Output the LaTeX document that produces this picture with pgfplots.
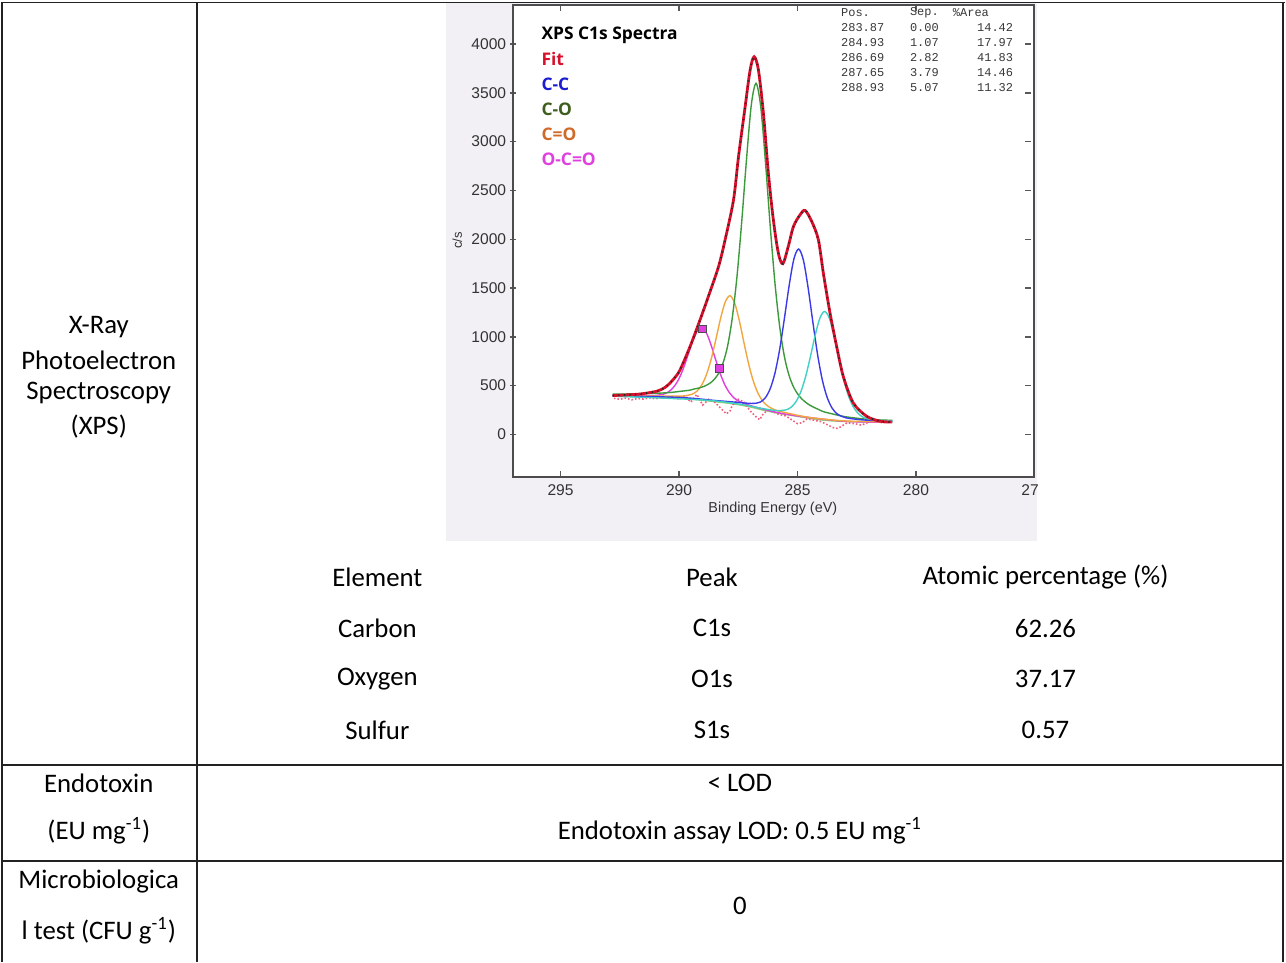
\documentclass[border=0pt]{standalone}
\usepackage{fontspec}
\setmainfont{Carlito}
\newfontfamily\arialf{Liberation Sans}
\newfontfamily\osans{Open Sans}
\newfontfamily\monof{Liberation Mono}
\usepackage{pgfplots}
\pgfplotsset{compat=1.18}

\definecolor{chartbg}{HTML}{F2F0F5}
\definecolor{fitred}{HTML}{D8102C}
\definecolor{ccblue}{HTML}{1C1CD0}
\definecolor{coolive}{HTML}{3E5E1E}
\definecolor{cobrown}{HTML}{D06A28}
\definecolor{ocomag}{HTML}{E040E0}
\definecolor{compblue}{HTML}{3A3AE8}
\definecolor{compgreen}{HTML}{3C9A3C}
\definecolor{comporange}{HTML}{F2A640}
\definecolor{compcyan}{HTML}{40D0C4}
\definecolor{bggreen}{HTML}{90D070}
\definecolor{respink}{HTML}{F06080}
\definecolor{gridline}{HTML}{222222}

\begin{document}
\begin{tikzpicture}
\begin{scope}[x=0.5pt,y=-0.5pt]
\useasboundingbox (0,0) rectangle (1286,963);
\fill[white] (0,0) rectangle (1286,963);
\fill[chartbg] (446,3) rectangle (1038,542);
\end{scope}

\begin{axis}[
    at={(256.5pt,-239pt)}, anchor=south west,
    width=261pt, height=236.5pt, scale only axis,
    axis background/.style={fill=white},
    x dir=reverse,
    xmin=275, xmax=297, ymin=-440, ymax=4400,
    xtick={275,280,285,290,295},
    ytick={0,500,...,4000},
    tick align=inside,
    major tick length=3pt,
    ytick style={xshift=-1.5pt},
    tick style={black!65, line width=0.7pt},
    axis line style={black!70, line width=1pt},
    /pgf/number format/assume math mode=true,
    /pgf/number format/1000 sep={},
    ticklabel style={font=\arialf\fontsize{7.8}{9}\selectfont, text=black!80},
    clip=true,
]
% Shirley-type background
\addplot[bggreen, line width=0.7pt] coordinates {
(292.8,392) (292,388) (291,382) (290,372) (289.5,362) (289,350) (288.5,336)
(288,322) (287.5,305) (287,282) (286.5,252) (286,225) (285.5,205) (285,185)
(284.5,165) (284,148) (283.5,138) (283,132) (282,127) (281,124)};
% residuals
\addplot[respink, densely dotted, line width=0.8pt] coordinates {
(292.75,370) (292.5,360) (292.25,372) (292.0,355) (291.75,368) (291.5,362)
(291.25,375) (291.0,365) (290.75,380) (290.5,372) (290.25,385) (290.0,360)
(289.75,395) (289.5,330) (289.25,410) (289.0,300) (288.75,360) (288.5,330)
(288.25,270) (288.0,210) (287.85,240) (287.75,300) (287.5,360) (287.25,330)
(287.0,240) (286.75,180) (286.6,150) (286.45,210) (286.25,250) (286.0,230)
(285.75,200) (285.5,190) (285.25,150) (285.0,110) (284.8,120) (284.6,160)
(284.4,150) (284.2,140) (284.0,130) (283.75,100) (283.5,70) (283.3,60)
(283.1,90) (282.9,120) (282.6,110) (282.3,95) (282.0,125) (281.7,130)
(281.4,120) (281.1,125)};
% O-C=O component
\addplot[ocomag, line width=0.7pt, smooth] coordinates {
(292.8,396) (291.45,396) (291.25,397) (291.05,398) (290.85,404) (290.65,413)
(290.45,435) (290.25,478) (290.05,549) (289.85,655) (289.65,793) (289.45,938)
(289.25,1053) (289.05,1095) (288.85,1043) (288.65,917) (288.45,762) (288.25,615)
(288.05,499) (287.85,420) (287.65,368) (287.45,337) (287.25,317) (287.05,300)
(286.85,286) (286.65,272) (286.0,232) (285.0,189) (283.0,134) (281.0,124)};
% C=O component
\addplot[comporange, line width=0.7pt, smooth] coordinates {
(292.8,396) (291.5,392) (290.25,392) (290.05,393) (289.85,393) (289.65,400)
(289.45,412) (289.25,442) (289.05,503) (288.85,608) (288.65,765) (288.45,969)
(288.25,1185) (288.05,1357) (287.85,1421) (287.65,1344) (287.45,1159) (287.25,928)
(287.05,709) (286.85,535) (286.65,413) (286.45,335) (286.25,290) (286.05,262)
(285.85,243) (285.65,231) (285.45,220) (284.5,174) (283.0,138) (281.0,127)};
% C-O component
\addplot[compgreen, line width=0.7pt, smooth] coordinates {
(292.8,412) (291.5,418) (290.5,427) (289.75,447) (289.55,453) (289.35,466)
(289.15,476) (288.95,492) (288.75,516) (288.55,554) (288.35,618) (288.15,726)
(287.95,906) (287.75,1200) (287.55,1629) (287.35,2193) (287.15,2827) (286.95,3377)
(286.75,3598) (286.55,3353) (286.35,2782) (286.15,2128) (285.95,1545) (285.75,1101)
(285.55,793) (285.35,599) (285.15,477) (284.95,400) (284.75,348) (284.55,310)
(284.35,282) (284.15,260) (283.95,237) (283.75,223) (283.0,182) (282.0,154)
(281.0,144)};
% C-C component
\addplot[compblue, line width=0.7pt, smooth] coordinates {
(292.8,395) (290,379) (288.5,348) (287.75,333) (287.35,324) (287.15,320)
(286.95,317) (286.75,320) (286.55,334) (286.35,378) (286.15,470) (285.95,630)
(285.75,876) (285.55,1193) (285.35,1530) (285.15,1800) (284.95,1900) (284.75,1784)
(284.55,1498) (284.35,1146) (284.15,814) (283.95,554) (283.75,380) (283.55,273)
(283.35,215) (283.15,187) (282.95,170) (282.75,162) (282.55,156) (282.15,147)
(281.0,133)};
% second C-C component, cyan
\addplot[compcyan, line width=0.7pt, smooth] coordinates {
(292.8,392) (289,353) (287.5,312) (286.65,273) (286.25,256) (286.05,248)
(285.85,244) (285.65,246) (285.45,254) (285.25,282) (285.05,341) (284.85,443)
(284.65,600) (284.45,803) (284.25,1021) (284.05,1195) (283.85,1260) (283.65,1186)
(283.45,1001) (283.25,775) (283.05,562) (282.85,395) (282.65,284) (282.45,216)
(282.25,179) (282.05,162) (281.85,151) (281.65,146) (281.45,142) (281.0,136)};
% fit envelope and measured data
\addplot[fitred, line width=1.4pt, smooth, tension=0.5] coordinates {
(292.80,398) (292.20,405) (291.60,415) (290.93,443) (290.60,480) (290.37,529)
(290.15,590) (289.95,665) (289.53,903) (289.11,1176) (288.76,1415) (288.33,1722)
(288.05,2000) (287.70,2404) (287.49,2847) (287.21,3358) (287.00,3734) (286.83,3870)
(286.65,3734) (286.44,3291) (286.23,2677) (286.02,2199) (285.81,1859) (285.62,1749)
(285.39,1926) (285.17,2131) (284.89,2251) (284.68,2295) (284.40,2182) (284.12,1995)
(283.91,1654) (283.63,1245) (283.35,903) (283.07,596) (282.65,324) (282.09,187)
(281.53,136) (281.03,126)};
\addplot[black!85, line width=0.9pt, dash pattern=on 0.6pt off 2.2pt, smooth, tension=0.5] coordinates {
(292.80,398) (292.20,405) (291.60,415) (290.93,443) (290.60,480) (290.37,529)
(290.15,590) (289.95,665) (289.53,903) (289.11,1176) (288.76,1415) (288.33,1722)
(288.05,2000) (287.70,2404) (287.49,2847) (287.21,3358) (287.00,3734) (286.83,3870)
(286.65,3734) (286.44,3291) (286.23,2677) (286.02,2199) (285.81,1859) (285.62,1749)
(285.39,1926) (285.17,2131) (284.89,2251) (284.68,2295) (284.40,2182) (284.12,1995)
(283.91,1654) (283.63,1245) (283.35,903) (283.07,596) (282.65,324) (282.09,187)
(281.53,136) (281.03,126)};
% region markers
\addplot[only marks, mark=square*, mark size=2pt,
  mark options={fill=ocomag, draw=black!70, line width=0.5pt}] coordinates {
(289.01,1080) (288.31,680)};
\end{axis}

\begin{scope}[x=0.5pt,y=-0.5pt]
% crop of the 275 label
\fill[white] (1039,481) rectangle (1281,541);
% chart texts
\begin{scope}[every node/.style={anchor=west, inner sep=0pt, font=\osans\bfseries\fontsize{8.7}{10}\selectfont}]
\node[text=black] at (541,35) {XPS C1s Spectra};
\node[text=fitred] at (541,59) {Fit};
\node[text=ccblue] at (541,84) {C-C};
\node[text=coolive] at (541,109) {C-O};
\node[text=cobrown] at (541,134) {C=O};
\node[text=ocomag] at (541,160) {O-C=O};
\end{scope}
\begin{scope}[every node/.style={font=\monof\fontsize{6}{7}\selectfont, text=black!78, inner sep=0pt}]
\node[anchor=west] at (841,13) {Pos.};
\node[anchor=west] at (910,13) {Sep.};
\node[anchor=west] at (953,13) {\%Area};
\node[anchor=west] at (841,28) {283.87}; \node[anchor=west] at (910,28) {0.00}; \node[anchor=east] at (1014,28) {14.42};
\node[anchor=west] at (841,43) {284.93}; \node[anchor=west] at (910,43) {1.07}; \node[anchor=east] at (1014,43) {17.97};
\node[anchor=west] at (841,58) {286.69}; \node[anchor=west] at (910,58) {2.82}; \node[anchor=east] at (1014,58) {41.83};
\node[anchor=west] at (841,73) {287.65}; \node[anchor=west] at (910,73) {3.79}; \node[anchor=east] at (1014,73) {14.46};
\node[anchor=west] at (841,88) {288.93}; \node[anchor=west] at (910,88) {5.07}; \node[anchor=east] at (1014,88) {11.32};
\end{scope}
\node[rotate=90, font=\arialf\fontsize{6.5}{8}\selectfont, text=black!80] at (457,241) {c/s};
\node[font=\arialf\fontsize{7.2}{9}\selectfont, text=black!80] at (773,509) {Binding Energy (eV)};

% table rules
\draw[gridline, line width=0.9pt] (0,2.5) -- (1286,2.5);
\draw[gridline, line width=0.9pt] (1.5,2.5) -- (1.5,963);
\draw[gridline, line width=0.9pt] (196,2.5) -- (196,963);
\draw[gridline, line width=0.9pt] (1283.5,2.5) -- (1283.5,963);
\draw[gridline, line width=0.9pt] (1.5,766) -- (1283.5,766);
\draw[gridline, line width=0.9pt] (1.5,862) -- (1283.5,862);

% table texts
\begin{scope}[every node/.style={font=\fontsize{13.4}{16.5}\selectfont, text=black, inner sep=0pt}]
\node at (98,328) {X-Ray};
\node at (98,361) {Photoelectron};
\node at (98,394) {Spectroscopy};
\node at (98,427) {(XPS)};
\node at (377,578) {Element};
\node at (712,578) {Peak};
\node at (1046,578) {Atomic percentage (\%)};
\node at (377,629) {Carbon};
\node at (712,629) {C1s};
\node at (1046,629) {62.26};
\node at (377,680) {Oxygen};
\node at (712,680) {O1s};
\node at (1046,680) {37.17};
\node at (377,731) {Sulfur};
\node at (712,731) {S1s};
\node at (1046,731) {0.57};
\node at (98,784) {Endotoxin};
\node at (98,832) {(EU mg\textsuperscript{-1})};
\node at (740,784) {< LOD};
\node at (740,832) {Endotoxin assay LOD: 0.5 EU mg\textsuperscript{-1}};
\node at (98,883) {Microbiologica};
\node at (98,932) {l test (CFU g\textsuperscript{-1})};
\node at (740,907) {0};
\end{scope}
\end{scope}
\end{tikzpicture}
\end{document}
